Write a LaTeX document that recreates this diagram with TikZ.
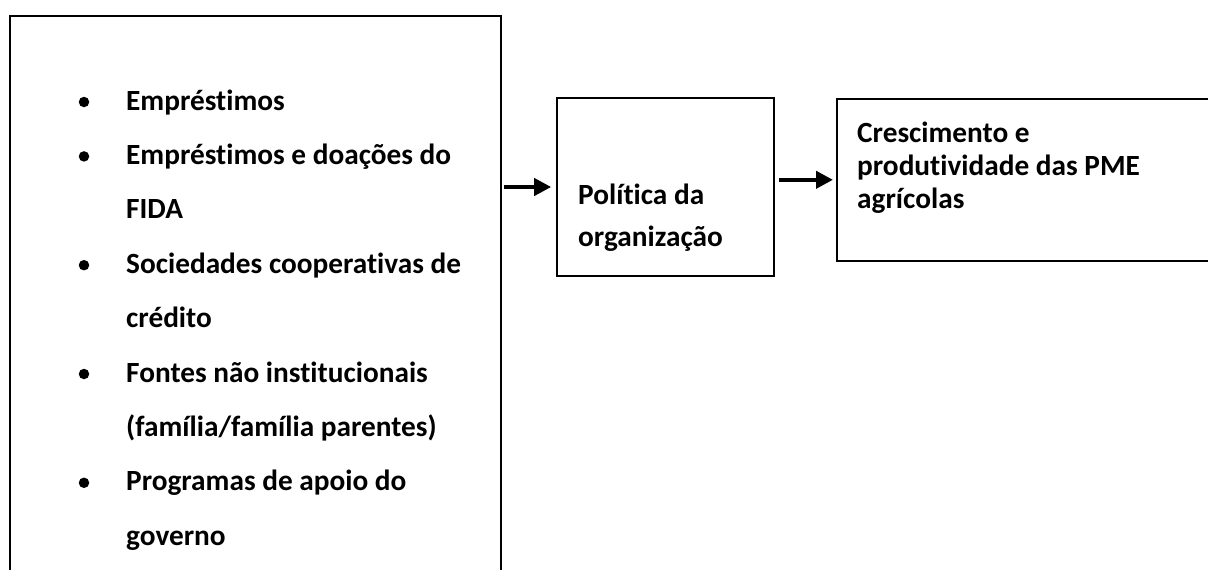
\documentclass[tikz,border=0pt]{standalone}
\usepackage{fontspec}
\setmainfont{Carlito}[Ligatures=NoCommon]
\usetikzlibrary{arrows.meta}
\tikzset{
  box/.style={draw, line width=1.6pt, inner sep=0pt},
  txt/.style={anchor=base west, inner sep=0pt, font=\fontsize{29.3}{34}\selectfont\bfseries},
  dot/.style={circle, fill, inner sep=0pt, minimum size=10.5pt},
  arr/.style={line width=4pt, -{Triangle[length=17pt,width=17pt]}},
}
\begin{document}
\begin{tikzpicture}[x=1pt, y=-1pt]
\useasboundingbox (0,0) rectangle (1208,570);
% left box with the list of sources
\node[box, minimum width=491pt, minimum height=620pt, anchor=north west] (sources) at (9,15) {};
\foreach \txt [count=\i] in {Empréstimos, Empréstimos e doações do, FIDA,
  Sociedades cooperativas de, crédito, Fontes não institucionais,
  (família/família parentes), Programas de apoio do, governo}
  \node[txt] (src\i) at (126,{110+54.4*(\i-1)}) {\txt};
\foreach \i in {1,2,4,6,8}
  \node[dot] (b\i) at (84,{102+54.4*(\i-1)}) {};

% middle box
\node[box, minimum width=217pt, minimum height=178pt] (policy) at (665.5,187) {};
\node[txt] (pol1) at (578,204) {Política da};
\node[txt] (pol2) at (578,246) {organização};

% right box
\node[box, minimum width=410pt, minimum height=162pt, anchor=north west] (growth) at (836,98) {};
\node[txt] (gro1) at (857,142) {Crescimento e};
\node[txt] (gro2) at (857,175) {produtividade das PME};
\node[txt] (gro3) at (857,208) {agrícolas};

\draw[arr, shorten <=2pt, shorten >=5pt] (sources.east |- policy.west) -- (policy.west);
\draw[arr, shorten <=4pt, shorten >=3pt] (policy.east |- growth.west) -- (growth.west);
\end{tikzpicture}
\end{document}
